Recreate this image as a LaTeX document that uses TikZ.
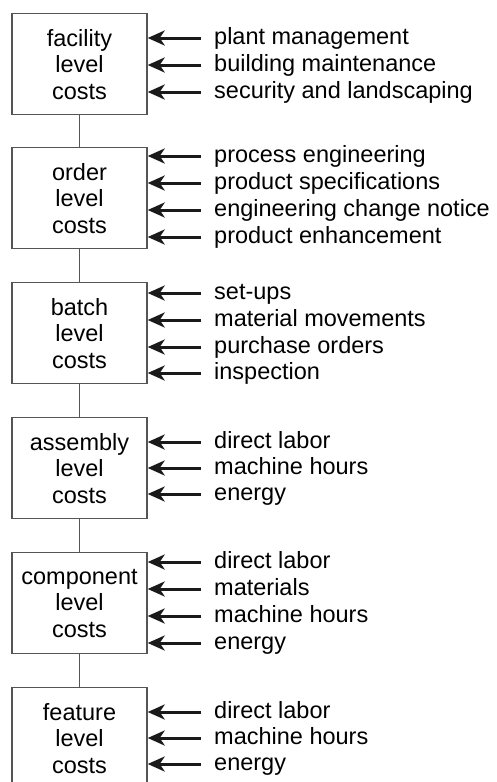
\documentclass[tikz,border=0pt]{standalone}
\usepackage{fontspec}
\setmainfont{Liberation Sans}
\usetikzlibrary{arrows.meta}
\definecolor{boxline}{HTML}{555555}
\definecolor{arrowcol}{HTML}{1A1A1A}
\begin{document}
\begin{tikzpicture}[x=1pt,y=-1pt,
  costbox/.style={draw=boxline, line width=1.4pt, fill=white, minimum width=135pt, minimum height=101pt,
    inner sep=0pt, align=center, anchor=north, text=black, font=\fontsize{23.5}{26.5}\selectfont},
  conn/.style={draw=boxline, line width=1.2pt},
  lbl/.style={anchor=west, inner xsep=13pt, inner ysep=0pt, text height=12.2pt, text depth=0pt,
    font=\fontsize{23.5}{26.5}\selectfont, text=black},
  arr/.style={draw=arrowcol, line width=3pt, -{Stealth[length=17pt, width=15pt, inset=5pt]}}
]
\useasboundingbox (0,0) rectangle (496,782);
\fill[white] (0,0) rectangle (496,782);

% boxes
\node[costbox] (f) at (79.5,13)  {facility\\level\\costs};
\node[costbox] (o) at (79.5,147) {order\\level\\costs};
\node[costbox] (b) at (79.5,282) {batch\\level\\costs};
\node[costbox] (a) at (79.5,417) {assembly\\level\\costs};
\node[costbox] (c) at (79.5,552) {component\\level\\costs};
\node[costbox] (e) at (79.5,687) {feature\\level\\costs};

% connectors
\draw[conn] (f.south) -- (o.north);
\draw[conn] (o.south) -- (b.north);
\draw[conn] (b.south) -- (a.north);
\draw[conn] (a.south) -- (c.north);
\draw[conn] (c.south) -- (e.north);

% facility
\node[lbl] (f1) at (201,38) {plant management};
\node[lbl] (f2) at (201,65) {building maintenance};
\node[lbl] (f3) at (201,92) {security and landscaping};
\foreach \n in {f1,f2,f3} \draw[arr] (\n.west) -- (\n.west -| f.east);

% order
\node[lbl] (o1) at (201,156) {process engineering};
\node[lbl] (o2) at (201,183) {product specifications};
\node[lbl] (o3) at (201,210) {engineering change notice};
\node[lbl] (o4) at (201,237) {product enhancement};
\foreach \n in {o1,o2,o3,o4} \draw[arr] (\n.west) -- (\n.west -| o.east);

% batch
\node[lbl] (b1) at (201,293) {set-ups};
\node[lbl] (b2) at (201,320) {material movements};
\node[lbl] (b3) at (201,347) {purchase orders};
\node[lbl] (b4) at (201,373) {inspection};
\foreach \n in {b1,b2,b3,b4} \draw[arr] (\n.west) -- (\n.west -| b.east);

% assembly
\node[lbl] (a1) at (201,442) {direct labor};
\node[lbl] (a2) at (201,468) {machine hours};
\node[lbl] (a3) at (201,494) {energy};
\foreach \n in {a1,a2,a3} \draw[arr] (\n.west) -- (\n.west -| a.east);

% component
\node[lbl] (c1) at (201,562) {direct labor};
\node[lbl] (c2) at (201,589) {materials};
\node[lbl] (c3) at (201,616) {machine hours};
\node[lbl] (c4) at (201,643) {energy};
\foreach \n in {c1,c2,c3,c4} \draw[arr] (\n.west) -- (\n.west -| c.east);

% feature
\node[lbl] (e1) at (201,712) {direct labor};
\node[lbl] (e2) at (201,738) {machine hours};
\node[lbl] (e3) at (201,764) {energy};
\foreach \n in {e1,e2,e3} \draw[arr] (\n.west) -- (\n.west -| e.east);
\end{tikzpicture}
\end{document}
